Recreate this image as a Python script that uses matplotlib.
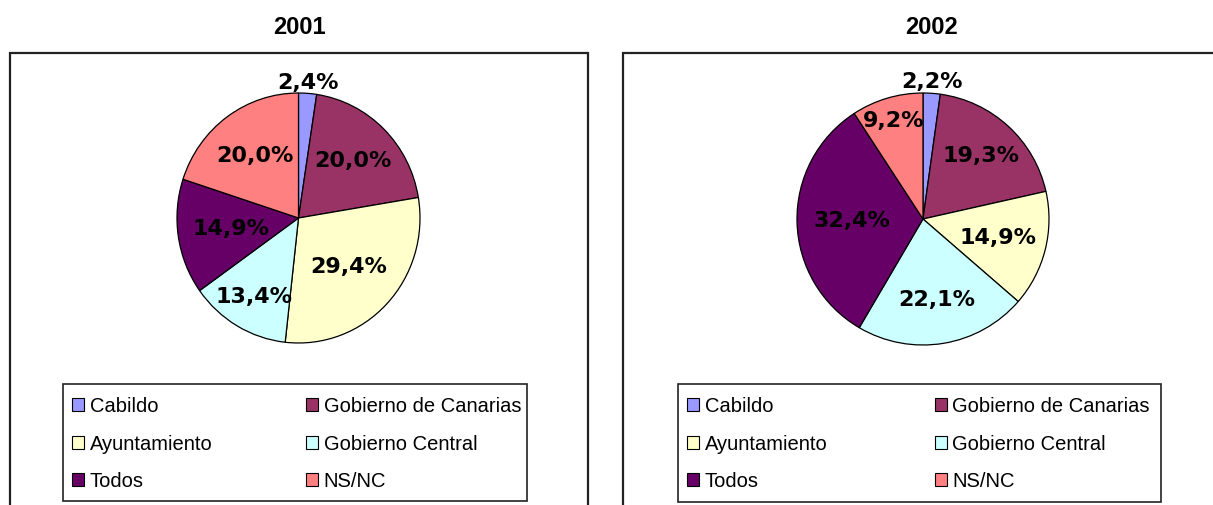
import matplotlib
matplotlib.use("Agg")
import matplotlib.pyplot as plt
from matplotlib.patches import Rectangle, Patch
import numpy as np

categories = ["Cabildo", "Gobierno de Canarias", "Ayuntamiento",
              "Gobierno Central", "Todos", "NS/NC"]
values_2001 = [2.4, 20.0, 29.4, 13.4, 14.9, 20.0]
values_2002 = [2.2, 19.3, 14.9, 22.1, 32.4, 9.2]
titles = ["2001", "2002"]

colors = ["#9999FF", "#993366", "#FFFFCC", "#CCFFFF", "#660066", "#FF8080"]

W, H = 1213, 505
fig = plt.figure(figsize=(W / 100, H / 100), dpi=100)


def fx(x):
    return x / W


def fy(y):
    return 1 - y / H


def axes_px(l, t, r, b):
    return fig.add_axes([fx(l), fy(b), fx(r) - fx(l), (b - t) / H])


def rect_px(l, t, r, b, lw):
    fig.patches.append(Rectangle((fx(l), fy(b)), fx(r) - fx(l), (b - t) / H,
                                 transform=fig.transFigure, fill=False,
                                 edgecolor="#222222", linewidth=lw,
                                 clip_on=False))


panels = [
    dict(values=values_2001, title="2001", title_x=299,
         box=(10, 53, 588, 520),
         pie=(177, 93, 420, 343),
         dist=[1.08, 0.64, 0.57, 0.73, 0.56, 0.61],
         legend=(63, 384, 527, 501),
         content=(72, 521)),
    dict(values=values_2002, title="2002", title_x=931,
         box=(623, 53, 1230, 520),
         pie=(797, 93, 1049, 345),
         dist=[1.09, 0.68, 0.61, 0.65, 0.56, 0.81],
         legend=(678, 384, 1161, 502),
         content=(687, 1150)),
]

for p in panels:
    rect_px(*p["box"], lw=1.6)
    fig.text(fx(p["title_x"]), fy(27.5), p["title"], ha="center", va="center",
             fontsize=17, fontweight="bold",
             family=["Liberation Sans Narrow", "Liberation Sans", "DejaVu Sans"])

    ax = axes_px(*p["pie"])
    wedges, _ = ax.pie(p["values"], colors=colors, startangle=90,
                       counterclock=False,
                       wedgeprops=dict(edgecolor="black", linewidth=0.9))
    ax.set_aspect("auto")
    ax.set_xlim(-1, 1)
    ax.set_ylim(-1, 1)
    ax.axis("off")
    for w, v, d in zip(wedges, p["values"], p["dist"]):
        ang = np.deg2rad((w.theta1 + w.theta2) / 2)
        ax.text(d * np.cos(ang), d * np.sin(ang),
                f"{v:.1f}".replace(".", ",") + "%",
                ha="center", va="center", fontsize=16, fontweight="bold",
                family="DejaVu Sans", color="black", clip_on=False)

    # legend frame
    ll, lt, lr, lb = p["legend"]
    rect_px(ll, lt, lr, lb, lw=1.2)
    cl, cr = p["content"]
    handles = [Patch(facecolor=c, edgecolor="black", linewidth=0.8) for c in colors]
    order = [0, 2, 4, 1, 3, 5]
    leg = fig.legend([handles[i] for i in order], [categories[i] for i in order],
                     loc="center left", ncol=2, mode="expand",
                     bbox_to_anchor=(fx(cl), fy(444), fx(cr) - fx(cl), 0),
                     bbox_transform=fig.transFigure,
                     prop=dict(family="Liberation Sans", size=14.5),
                     frameon=False,
                     handlelength=0.62, handleheight=0.62, handletextpad=0.26,
                     labelspacing=0.92, borderpad=0, borderaxespad=0,
                     columnspacing=1.0)

fig.savefig("out.png", dpi=100)
